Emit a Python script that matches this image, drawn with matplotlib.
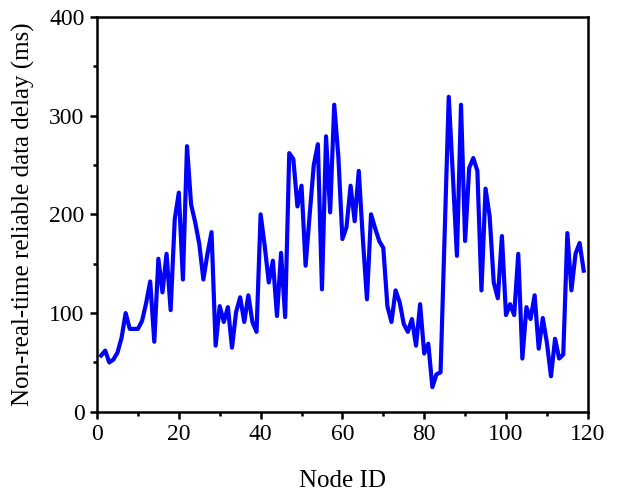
import matplotlib
matplotlib.use('Agg')
import matplotlib.pyplot as plt
from matplotlib.ticker import MultipleLocator

# node IDs and delay values (ms)
node_ids = list(range(1, 120))
delays = [
    57, 62, 50, 53, 60, 75, 100, 84, 84, 84,
    92, 110, 132, 71, 155, 121, 160, 103, 195, 222,
    134, 269, 210, 192, 170, 134, 160, 182, 67, 107,
    91, 106, 65, 101, 116, 91, 118, 91, 81, 200,
    168, 131, 153, 97, 161, 96, 262, 256, 208, 229,
    148, 200, 250, 271, 124, 279, 202, 311, 259, 175,
    187, 229, 193, 244, 175, 114, 200, 186, 173, 166,
    107, 91, 123, 111, 89, 81, 94, 67, 109, 59,
    69, 25, 38, 40, 180, 319, 240, 158, 311, 173,
    247, 257, 244, 123, 226, 198, 131, 115, 178, 98,
    109, 98, 160, 54, 106, 94, 118, 64, 95, 70,
    36, 74, 54, 58, 181, 123, 160, 171, 143,
]

x_ticks = [0, 20, 40, 60, 80, 100, 120]
y_ticks = [0, 100, 200, 300, 400]

plt.rcParams['font.family'] = ['Liberation Serif', 'DejaVu Serif']

fig = plt.figure(figsize=(6.22, 4.95), dpi=100)
ax = fig.add_axes([0.156, 0.168, 0.789, 0.798])

ax.plot(node_ids, delays, color='#0000ff', linewidth=3.0)

ax.set_xlim(0, 120)
ax.set_ylim(0, 400)
ax.set_xticks(x_ticks)
ax.set_yticks(y_ticks)
ax.xaxis.set_minor_locator(MultipleLocator(10))
ax.yaxis.set_minor_locator(MultipleLocator(50))

for spine in ax.spines.values():
    spine.set_linewidth(1.8)

ax.tick_params(which='major', direction='out', length=5, width=1.8, labelsize=17, pad=4)
ax.tick_params(which='minor', direction='out', length=3, width=1.8)

ax.set_xlabel('Node ID', fontsize=18, labelpad=18)
ax.set_ylabel('Non-real-time reliable data delay (ms)', fontsize=18, labelpad=10)

fig.savefig('out.png', dpi=100)
